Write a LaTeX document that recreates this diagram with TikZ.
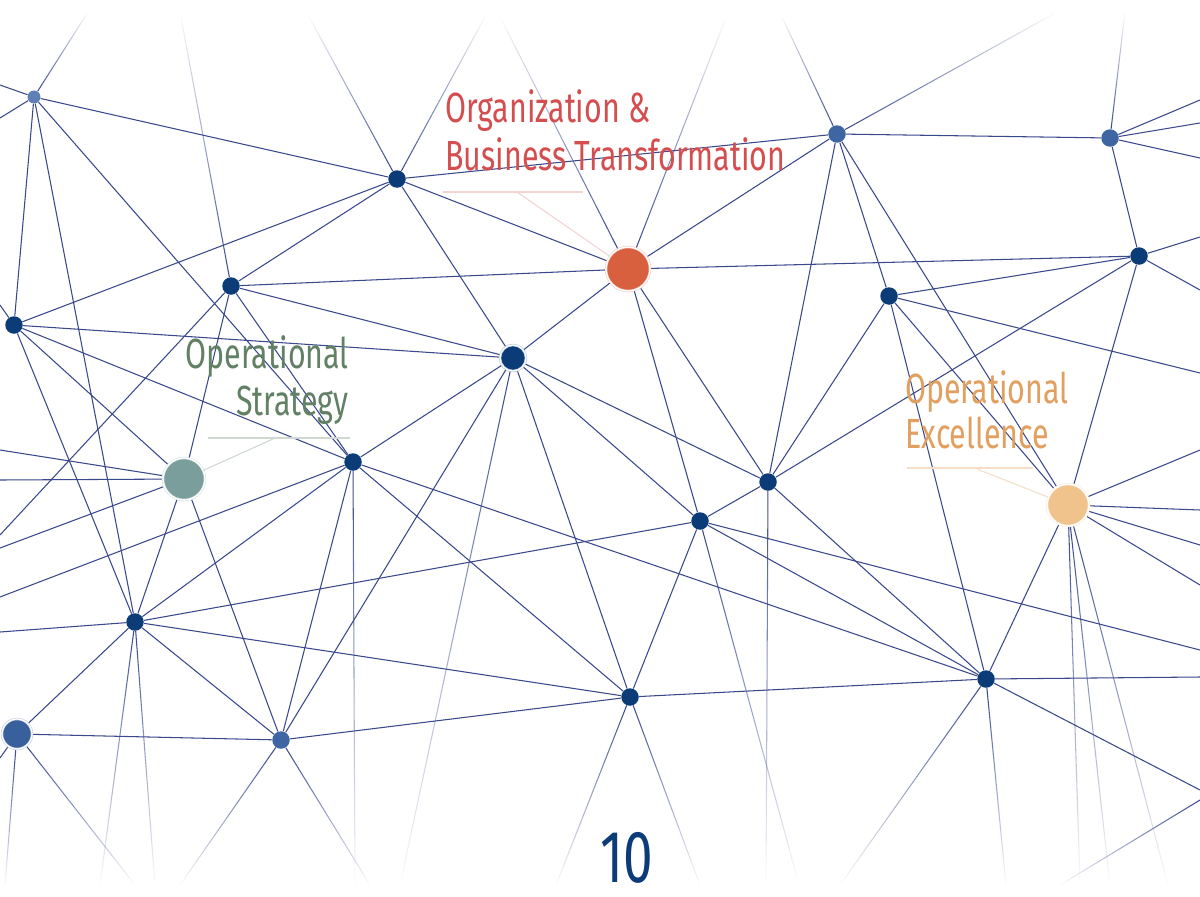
\documentclass[tikz,border=0pt]{standalone}
\usepackage{fontspec}
\setmainfont{Fira Sans}[FakeStretch=0.72]
\usetikzlibrary{backgrounds,fadings}

\definecolor{edgeblue}{RGB}{58,72,140}
\definecolor{navy}{RGB}{12,60,120}
\definecolor{midblue}{RGB}{62,102,162}
\definecolor{paleblue}{RGB}{95,128,182}
\definecolor{orgred}{RGB}{217,96,62}
\definecolor{stratgrey}{RGB}{122,158,156}
\definecolor{excelpeach}{RGB}{240,194,140}
\definecolor{orgtext}{RGB}{212,78,80}
\definecolor{strattext}{RGB}{98,128,100}
\definecolor{exceltext}{RGB}{226,160,96}

\tikzset{
  dot/.style={circle, fill=navy, inner sep=0pt, minimum size=3.5mm},
  middot/.style={dot, fill=midblue},
  hub/.style={circle, inner sep=0pt, fill=#1, draw=#1!30, double=white, double distance=0.7pt, line width=0.35pt},
  link/.style={edgeblue, line width=0.6pt},
  fadeup/.style={link, path fading=north},
  fadedown/.style={link, path fading=south},
  labeltxt/.style={inner sep=0pt, font=\fontsize{24}{28}\selectfont},
  rule/.style={line width=0.6pt}
}

\begin{document}
\begin{tikzpicture}[x=0.02cm, y=-0.02cm]
    \useasboundingbox (0,0) rectangle (1200,896);

    \node[dot, fill=paleblue, minimum size=2.6mm] (1) at (34,97) {};
    \node[dot] (2) at (397,179) {};
    \node[dot] (3) at (231,286) {};
    \node[dot] (4) at (14,325) {};
    \node[hub=navy, minimum size=5.2mm] (5) at (513,358) {};
    \node[hub=orgred, minimum size=8.8mm] (6) at (628,269) {};
    \node[middot] (7) at (837,134) {};
    \node[middot] (8) at (1110,138) {};
    \node[dot] (9) at (1139,256) {};
    \node[dot] (10) at (889,296) {};
    \node[hub=stratgrey, minimum size=8.4mm] (11) at (184,479) {};
    \node[dot] (12) at (353,462) {};
    \node[dot] (13) at (768,482) {};
    \node[dot] (14) at (700,521) {};
    \node[hub=excelpeach, minimum size=8.4mm] (15) at (1068,505) {};
    \node[dot] (16) at (135,622) {};
    \node[hub=midblue!85!navy, minimum size=6mm] (17) at (17,734) {};
    \node[middot] (18) at (281,740) {};
    \node[dot] (19) at (630,697) {};
    \node[dot] (20) at (986,679) {};

    % ends at the edges of the page
    \coordinate (t1) at (88,12);   \coordinate (t2) at (308,15);  \coordinate (t3) at (486,15);
    \coordinate (t4) at (180,12);  \coordinate (t5) at (499,15);  \coordinate (t6) at (727,15);
    \coordinate (t7) at (781,15);  \coordinate (t8) at (1057,12); \coordinate (t9) at (1125,12);
    \coordinate (b1) at (100,885); \coordinate (b2) at (155,885); \coordinate (b3) at (5,885);
    \coordinate (b4) at (135,885); \coordinate (b5) at (180,885); \coordinate (b6) at (370,885);
    \coordinate (b7) at (355,885); \coordinate (b8) at (400,885); \coordinate (b9) at (556,885);
    \coordinate (b10) at (700,885); \coordinate (b11) at (766,885); \coordinate (b12) at (799,885);
    \coordinate (b13) at (840,885); \coordinate (b14) at (1006,885); \coordinate (b15) at (1080,885);
    \coordinate (b16) at (1110,885); \coordinate (b17) at (1168,885); \coordinate (b18) at (1060,885);
    \coordinate (r1) at (1200,100); \coordinate (r2) at (1200,123); \coordinate (r3) at (1200,158);
    \coordinate (r4) at (1200,237); \coordinate (r5) at (1200,290); \coordinate (r6) at (1200,373);
    \coordinate (r7) at (1200,450); \coordinate (r8) at (1200,510); \coordinate (r9) at (1200,545);
    \coordinate (r10) at (1200,585); \coordinate (r11) at (1200,650); \coordinate (r12) at (1200,677);
    \coordinate (r13) at (1200,790); \coordinate (r14) at (1200,800);
    \coordinate (l1) at (0,85);    \coordinate (l2) at (0,118);   \coordinate (l3) at (0,305);
    \coordinate (l4) at (0,535);   \coordinate (l5) at (0,450);   \coordinate (l6) at (0,480);
    \coordinate (l7) at (0,548);   \coordinate (l8) at (0,597);   \coordinate (l9) at (0,632);
    \coordinate (l10) at (0,758);

    \begin{scope}[on background layer]
    \fill[white] (0,0) rectangle (1200,896);
    \draw[link] (1) -- (2) -- (6) -- (7) -- (8) -- (9) -- (6) -- (14) -- (5) -- (6) -- (13) -- (9) -- (10) -- (7) -- (13) -- (14) -- (19) -- (20) -- (15) -- (9);
    \draw[link] (7) -- (2) -- (3) -- (6);
    \draw[link] (7) -- (15) -- (10) -- (13) -- (20) -- (10);
    \draw[link] (20) -- (14) -- (16) -- (19) -- (18) -- (17) -- (16) -- (18) -- (11) -- (16) -- (1) -- (4) -- (2) -- (5) -- (3) -- (11) -- (4) -- (5) -- (12) -- (1);
    \draw[link] (3) -- (12) -- (4) -- (16) -- (12) -- (18) -- (5) -- (19) -- (12) -- (20);
    \draw[link] (5) -- (13);

    \draw[fadeup] (1) -- (t1);  \draw[fadeup] (2) -- (t2);  \draw[fadeup] (2) -- (t3);
    \draw[fadeup] (3) -- (t4);  \draw[fadeup] (6) -- (t5);  \draw[fadeup] (6) -- (t6);
    \draw[fadeup] (7) -- (t7);  \draw[fadeup] (7) -- (t8);  \draw[fadeup] (8) -- (t9);

    \draw[fadedown] (16) -- (b1);  \draw[fadedown] (16) -- (b2);  \draw[fadedown] (17) -- (b3);
    \draw[fadedown] (17) -- (b4);  \draw[fadedown] (18) -- (b5);  \draw[fadedown] (18) -- (b6);
    \draw[fadedown] (12) -- (b7);  \draw[fadedown] (5) -- (b8);   \draw[fadedown] (19) -- (b9);
    \draw[fadedown] (19) -- (b10); \draw[fadedown] (13) -- (b11); \draw[fadedown] (14) -- (b12);
    \draw[fadedown] (20) -- (b13); \draw[fadedown] (20) -- (b14); \draw[fadedown] (15) -- (b15);
    \draw[fadedown] (15) -- (b16); \draw[fadedown] (15) -- (b17); \draw[fadedown] (r14) -- (b18);

    \draw[link] (8) -- (r1);  \draw[link] (8) -- (r2);  \draw[link] (8) -- (r3);
    \draw[link] (9) -- (r4);  \draw[link] (9) -- (r5);  \draw[link] (10) -- (r6);
    \draw[link] (15) -- (r7); \draw[link] (15) -- (r8); \draw[link] (15) -- (r9);
    \draw[link] (15) -- (r10); \draw[link] (14) -- (r11); \draw[link] (20) -- (r12);
    \draw[link] (20) -- (r13);
    \draw[link] (1) -- (l1);  \draw[link] (1) -- (l2);  \draw[link] (4) -- (l3);
    \draw[link] (3) -- (l4);  \draw[link] (11) -- (l5); \draw[link] (11) -- (l6);
    \draw[link] (11) -- (l7); \draw[link] (12) -- (l8); \draw[link] (16) -- (l9);
    \draw[link] (17) -- (l10);
    \end{scope}

    % labels
    \node[labeltxt, text=orgtext, anchor=base west] (org1) at (445,122) {Organization \&};
    \node[labeltxt, text=orgtext, anchor=base west] (org2) at (445,170) {Business Transformation};
    \coordinate (orgl) at (443,192); \coordinate (orgr) at (583,192); \coordinate (orgk) at (517,192);
    \draw[rule, orgtext!25] (orgl) -- (orgr);
    \draw[rule, orgtext!25] (orgk) -- (6);

    \node[labeltxt, text=strattext, anchor=base east] (str1) at (349,368) {Operational};
    \node[labeltxt, text=strattext, anchor=base east] (str2) at (349,415) {Strategy};
    \coordinate (strl) at (208,438); \coordinate (strr) at (350,438); \coordinate (strk) at (273,439);
    \draw[rule, strattext!30] (strl) -- (strr);
    \draw[rule, strattext!30] (strk) -- (11);

    \node[labeltxt, text=exceltext, anchor=base west] (exc1) at (905,403) {Operational};
    \node[labeltxt, text=exceltext, anchor=base west] (exc2) at (905,448) {Excellence};
    \coordinate (excl) at (907,468); \coordinate (excr) at (1033,468); \coordinate (exck) at (977,469);
    \draw[rule, exceltext!35] (excl) -- (excr);
    \draw[rule, exceltext!35] (exck) -- (15);

    \node[inner sep=0pt, text=navy, anchor=base, font=\fontsize{42}{46}\selectfont] (page) at (627,882) {10};
\end{tikzpicture}
\end{document}
